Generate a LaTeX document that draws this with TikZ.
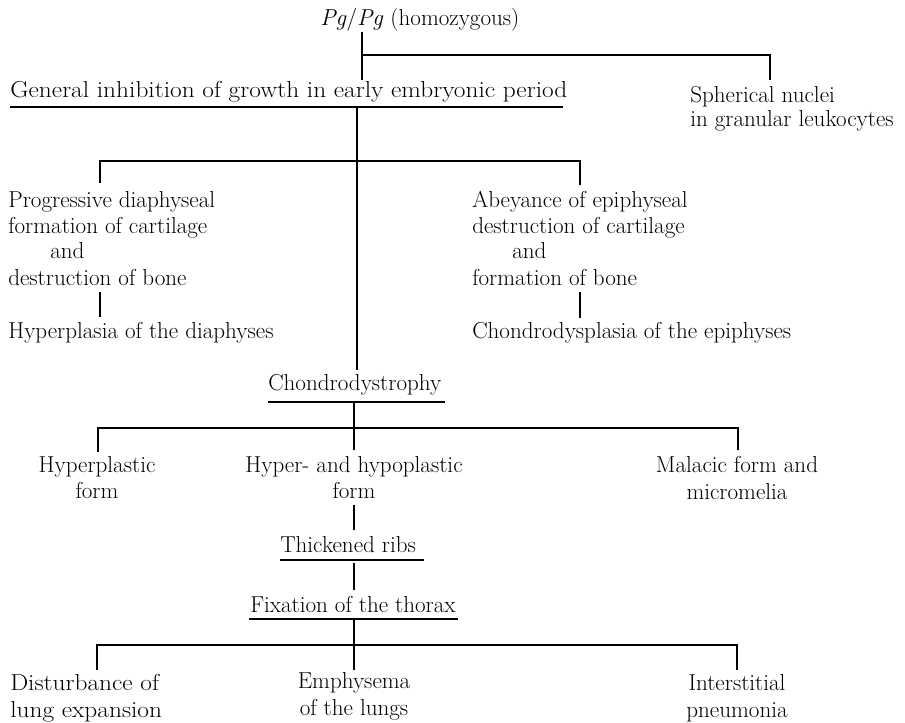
\documentclass[tikz,border=0pt]{standalone}
\usepackage{graphicx}
\begin{document}
\begin{tikzpicture}[x=0.75pt,y=-0.75pt,
  font=\fontsize{17.3}{19.5}\selectfont,
  txt/.style={inner sep=0pt, anchor=base west},
  ctxt/.style={inner sep=0pt, anchor=base},
  conn/.style={line width=0.8pt},
  uline/.style={line width=0.9pt}]
\useasboundingbox[fill=white] (0,0) rectangle (905,722);

% ---- texts ----
\node[txt] (pg) at (320,25) {\textit{Pg}/\textit{Pg} (homozygous)};
\node[txt] (gen) at (10,97) {\scalebox{1.1}[1]{General inhibition of growth in early embryonic period}};
\node[txt] (sph1) at (690,102) {Spherical nuclei};
\node[txt] (sph2) at (690,126) {in granular leukocytes};

\node[txt] (pr1) at (8,207) {Progressive diaphyseal};
\node[txt] (pr2) at (8,233) {formation of cartilage};
\node[txt] (pr3) at (50,258) {and};
\node[txt] (pr4) at (8,285) {destruction of bone};
\node[txt] (hyd) at (8,338) {Hyperplasia of the diaphyses};

\node[txt] (ab1) at (472,207) {Abeyance of epiphyseal};
\node[txt] (ab2) at (472,233) {destruction of cartilage};
\node[txt] (ab3) at (512,258) {and};
\node[txt] (ab4) at (472,285) {formation of bone};
\node[txt] (chd) at (472,338) {Chondrodysplasia of the epiphyses};

\node[txt] (chy) at (268,390) {Chondrodystrophy};

\node[ctxt] (hp1) at (97,472) {Hyperplastic};
\node[ctxt] (hp2) at (97,498) {form};
\node[ctxt] (hh1) at (354,472) {Hyper- and hypoplastic};
\node[ctxt] (hh2) at (354,498) {form};
\node[ctxt] (ma1) at (737,472) {Malacic form and};
\node[ctxt] (ma2) at (737,499) {micromelia};

\node[txt] (thr) at (280,552) {Thickened ribs};
\node[txt] (fix) at (250,612) {Fixation of the thorax};

\node[txt] (di1) at (10,690) {\scalebox{1.1}[1]{Disturbance of}};
\node[txt] (di2) at (10,717) {\scalebox{1.1}[1]{lung expansion}};
\node[ctxt] (em1) at (354,688) {Emphysema};
\node[ctxt] (em2) at (354,715) {of the lungs};
\node[ctxt] (in1) at (737,690) {Interstitial};
\node[ctxt] (in2) at (737,717) {pneumonia};

% ---- underlines ----
\draw[uline] (10,107) -- (563,107);
\draw[uline] (268,402) -- (445,402);
\draw[uline] (280,560) -- (424,560);
\draw[uline] (249,619) -- (458,619);

% ---- junction coordinates ----
\coordinate (a0) at (362,32);
\coordinate (a1) at (362,55);
\coordinate (a2) at (362,80);
\coordinate (a3) at (770,55);
\coordinate (a4) at (770,80);

\coordinate (b0) at (357,107);
\coordinate (b1) at (357,161);
\coordinate (b2) at (357,370);
\coordinate (b3) at (100,161);
\coordinate (b4) at (100,183);
\coordinate (b5) at (580,161);
\coordinate (b6) at (580,185);
\coordinate (b7) at (100,292);
\coordinate (b8) at (100,317);
\coordinate (b9) at (580,292);
\coordinate (b10) at (580,318);

\coordinate (c0) at (354,402);
\coordinate (c1) at (354,428);
\coordinate (c2) at (354,450);
\coordinate (c3) at (98,428);
\coordinate (c4) at (98,452);
\coordinate (c5) at (738,428);
\coordinate (c6) at (738,450);
\coordinate (c7) at (354,505);
\coordinate (c8) at (354,530);
\coordinate (c9) at (354,563);
\coordinate (c10) at (354,590);

\coordinate (d0) at (354,619);
\coordinate (d1) at (354,645);
\coordinate (d2) at (354,670);
\coordinate (d3) at (97,645);
\coordinate (d4) at (97,670);
\coordinate (d5) at (737,645);
\coordinate (d6) at (737,670);

% ---- connectors ----
\draw[conn] (a0) -- (a1) -- (a2);
\draw[conn] (a1) -- (a3) -- (a4);

\draw[conn] (b0) -- (b1) -- (b2);
\draw[conn] (b4) -- (b3) -- (b5) -- (b6);
\draw[conn] (b7) -- (b8);
\draw[conn] (b9) -- (b10);

\draw[conn] (c0) -- (c1) -- (c2);
\draw[conn] (c4) -- (c3) -- (c5) -- (c6);
\draw[conn] (c7) -- (c8);
\draw[conn] (c9) -- (c10);

\draw[conn] (d0) -- (d1) -- (d2);
\draw[conn] (d4) -- (d3) -- (d5) -- (d6);
\end{tikzpicture}
\end{document}
